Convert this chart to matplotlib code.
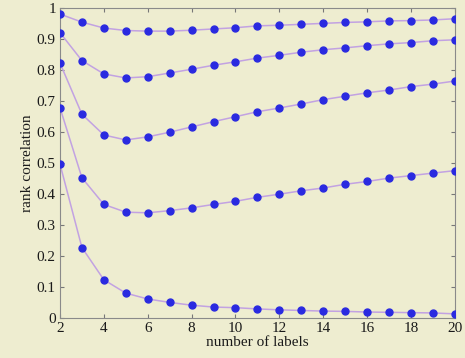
import matplotlib
matplotlib.use("Agg")
import matplotlib.pyplot as plt

x_labels = list(range(2, 21))
s1 = [0.980, 0.954, 0.935, 0.927, 0.925, 0.925, 0.928, 0.932, 0.936, 0.942, 0.944,
      0.947, 0.950, 0.953, 0.955, 0.958, 0.959, 0.961, 0.965]
s2 = [0.920, 0.830, 0.787, 0.774, 0.778, 0.790, 0.802, 0.815, 0.826, 0.838, 0.847,
      0.857, 0.865, 0.871, 0.878, 0.884, 0.888, 0.894, 0.897]
s3 = [0.822, 0.657, 0.590, 0.574, 0.584, 0.599, 0.616, 0.633, 0.649, 0.665, 0.677,
      0.690, 0.704, 0.715, 0.726, 0.735, 0.746, 0.754, 0.764]
s4 = [0.678, 0.452, 0.366, 0.341, 0.339, 0.346, 0.355, 0.366, 0.376, 0.389, 0.399,
      0.410, 0.419, 0.431, 0.440, 0.451, 0.459, 0.467, 0.475]
s5 = [0.496, 0.227, 0.123, 0.080, 0.061, 0.050, 0.041, 0.035, 0.033, 0.029, 0.026,
      0.024, 0.022, 0.021, 0.019, 0.018, 0.017, 0.016, 0.013]
series = [s1, s2, s3, s4, s5]

bg = "#eeedd0"
fig = plt.figure(figsize=(4.65, 3.58), dpi=100, facecolor=bg)
ax = fig.add_axes([0.129, 0.112, 0.849, 0.866], facecolor=bg)

for s in series:
    ax.plot(x_labels, s, color="#c2a2e2", lw=1.1, zorder=2)
    ax.plot(x_labels, s, linestyle="none", marker="o", ms=5,
            color="#2a2ae0", mec="#2a2ae0", zorder=3)

ax.set_xlim(2, 20)
ax.set_ylim(0, 1)
ax.set_xticks(range(2, 21, 2))
ax.set_yticks([i / 10 for i in range(11)])
ax.set_yticklabels(["0", "0.1", "0.2", "0.3", "0.4", "0.5", "0.6", "0.7", "0.8", "0.9", "1"])

font = "Liberation Serif"
for lab in ax.get_xticklabels() + ax.get_yticklabels():
    lab.set_fontfamily(font)
    lab.set_fontsize(11)
    lab.set_color("#1a1a1a")
ax.tick_params(direction="in", top=True, right=True, length=3, color="#777777", pad=3)
for sp in ax.spines.values():
    sp.set_color("#8a8a8a")
    sp.set_linewidth(0.8)

ax.set_xlabel("number of labels", fontfamily=font, fontsize=11, color="#1a1a1a", labelpad=1)
ax.set_ylabel("rank correlation", fontfamily=font, fontsize=11, color="#1a1a1a", labelpad=2)

fig.savefig("out.png", dpi=100, facecolor=bg)
